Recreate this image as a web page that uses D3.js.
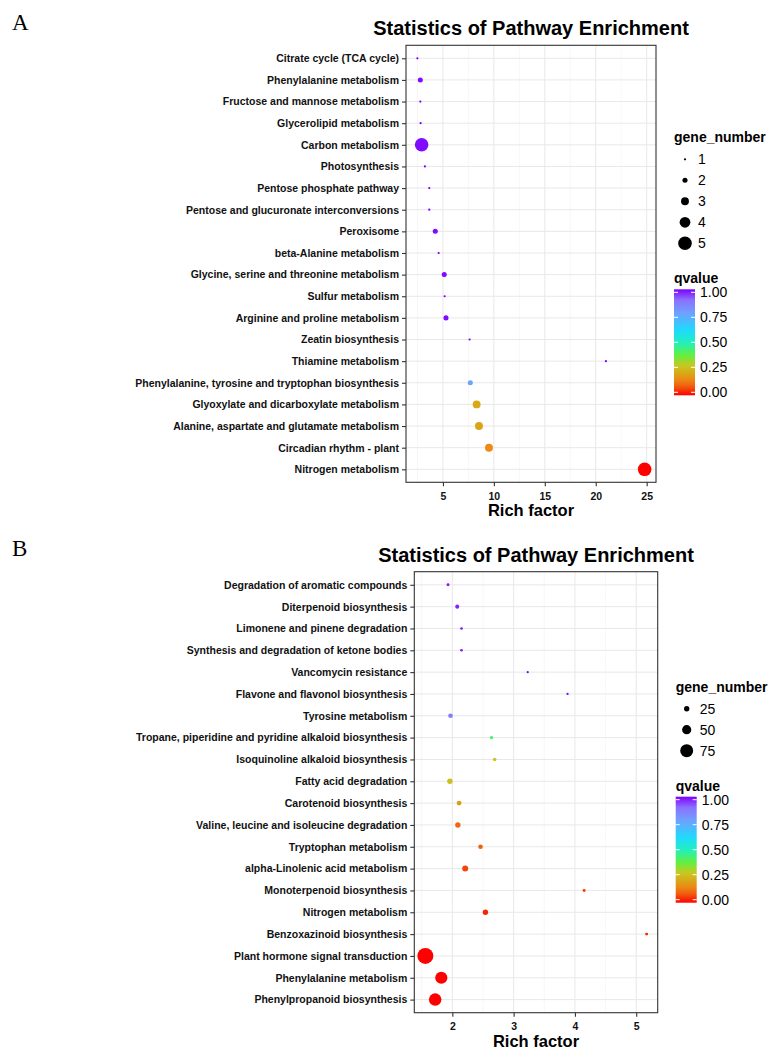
<!DOCTYPE html>
<html>
<head>
<meta charset="utf-8">
<script src="https://cdn.jsdelivr.net/npm/d3@7/dist/d3.min.js"></script>
<style>
  body { margin: 0; background: #fff; }
  text { font-family: "Liberation Sans", Arial, Helvetica, sans-serif; }
</style>
</head>
<body>
<svg id="chart" width="782" height="1061"></svg>
<script>
// ---- panel A data (top to bottom as drawn) ----
const pathwaysA = [
  'Citrate cycle (TCA cycle)', 'Phenylalanine metabolism', 'Fructose and mannose metabolism',
  'Glycerolipid metabolism', 'Carbon metabolism', 'Photosynthesis', 'Pentose phosphate pathway',
  'Pentose and glucuronate interconversions', 'Peroxisome', 'beta-Alanine metabolism',
  'Glycine, serine and threonine metabolism', 'Sulfur metabolism', 'Arginine and proline metabolism',
  'Zeatin biosynthesis', 'Thiamine metabolism', 'Phenylalanine, tyrosine and tryptophan biosynthesis',
  'Glyoxylate and dicarboxylate metabolism', 'Alanine, aspartate and glutamate metabolism',
  'Circadian rhythm - plant', 'Nitrogen metabolism'
]
const richA = [2.49, 2.78, 2.78, 2.81, 2.91, 3.23, 3.66, 3.66, 4.25, 4.58,
  5.13, 5.17, 5.3, 7.62, 21.0, 7.69, 8.31, 8.54, 9.52, 24.8]
const genesA = [1, 2, 1, 1, 5, 1, 1, 1, 2, 1, 2, 1, 2, 1, 1, 2, 3, 3, 3, 5]
const qvalueA = [1, 0.99, 1, 1, 0.99, 1, 1, 1, 0.99, 1,
  0.99, 1, 0.99, 1, 1, 0.77, 0.21, 0.2, 0.15, 0]
const xTicksA = [5, 10, 15, 20, 25]
const sizeBreaksA = [1, 2, 3, 4, 5]

// ---- panel B data ----
const pathwaysB = [
  'Degradation of aromatic compounds', 'Diterpenoid biosynthesis', 'Limonene and pinene degradation',
  'Synthesis and degradation of ketone bodies', 'Vancomycin resistance', 'Flavone and flavonol biosynthesis',
  'Tyrosine metabolism', 'Tropane, piperidine and pyridine alkaloid biosynthesis',
  'Isoquinoline alkaloid biosynthesis', 'Fatty acid degradation', 'Carotenoid biosynthesis',
  'Valine, leucine and isoleucine degradation', 'Tryptophan metabolism', 'alpha-Linolenic acid metabolism',
  'Monoterpenoid biosynthesis', 'Nitrogen metabolism', 'Benzoxazinoid biosynthesis',
  'Plant hormone signal transduction', 'Phenylalanine metabolism', 'Phenylpropanoid biosynthesis'
]
const richB = [1.93, 2.08, 2.15, 2.15, 3.23, 3.88, 1.97, 2.64, 2.69, 1.96,
  2.11, 2.09, 2.46, 2.21, 4.15, 2.54, 5.17, 1.56, 1.82, 1.72]
const genesB = [9, 16, 7, 7, 4, 4, 20, 12, 13, 25, 22, 25, 20, 29, 9, 25, 9, 95, 70, 72]
const qvalueB = [0.98, 0.97, 0.98, 0.98, 1, 1, 0.87, 0.42, 0.28, 0.26,
  0.19, 0.1, 0.09, 0.06, 0.05, 0.03, 0.03, 0, 0, 0]
const xTicksB = [2, 3, 4, 5]
const sizeBreaksB = [25, 50, 75]

// ---- shared colour legend ----
const qBreaks = [0, 0.25, 0.5, 0.75, 1]
const qStops = [0, 0.08, 0.15, 0.21, 0.28, 0.38, 0.5, 0.62, 0.78, 0.9, 1]
const qColours = ['#ff0000', '#f05a10', '#ec8a14', '#d8a818', '#c8c820', '#60f040',
  '#20f0c0', '#20d8ff', '#70a0ff', '#8a70ff', '#7f00ff']

const colour = d3.scaleLinear().domain(qStops).range(qColours).clamp(true)
const svg = d3.select('#chart')

// gradient for colourbar
const grad = svg.append('defs').append('linearGradient')
    .attr('id', 'qgrad')
    .attr('x1', 0).attr('y1', 1).attr('x2', 0).attr('y2', 0)
grad.selectAll('stop').data(d3.range(0, 1.0001, 0.025)).enter().append('stop')
    .attr('offset', d => d)
    .attr('stop-color', d => colour(d))

function panel (opts) {
  const { tag, tagY, box, names, rich, genes, qv, xTicks, sizeBreaks, rRange } = opts
  const g = svg.append('g')

  svg.append('text')
      .attr('x', 12).attr('y', tagY)
      .style('font-family', '"Liberation Serif", "Times New Roman", serif')
      .style('font-size', '23px')
      .text(tag)

  // ggplot-like 5% expansion
  const ext = d3.extent(rich)
  const pad = (ext[1] - ext[0]) * 0.05
  const x = d3.scaleLinear().domain([ext[0] - pad, ext[1] + pad]).range([box.left, box.right])
  const y = d3.scalePoint().domain(names).range([box.top, box.bottom]).padding(0.6)
  const r = d3.scaleLinear().domain(d3.extent(genes)).range(rRange)

  // grid
  const step = xTicks[1] - xTicks[0]
  const minor = xTicks.map(t => t - step / 2).concat([xTicks[xTicks.length - 1] + step / 2])
      .filter(v => v > x.domain()[0] && v < x.domain()[1])
  g.selectAll('.minor').data(minor).enter().append('line')
      .attr('x1', d => x(d)).attr('x2', d => x(d))
      .attr('y1', box.top).attr('y2', box.bottom)
      .attr('stroke', '#f3f3f3').attr('stroke-width', 0.7)
  g.selectAll('.vmajor').data(xTicks).enter().append('line')
      .attr('x1', d => x(d)).attr('x2', d => x(d))
      .attr('y1', box.top).attr('y2', box.bottom)
      .attr('stroke', '#e8e8e8').attr('stroke-width', 1)
  g.selectAll('.hmajor').data(names).enter().append('line')
      .attr('x1', box.left).attr('x2', box.right)
      .attr('y1', d => y(d)).attr('y2', d => y(d))
      .attr('stroke', '#e8e8e8').attr('stroke-width', 1)

  // points
  const rows = names.map((n, i) => ({ name: n, rich: rich[i], genes: genes[i], q: qv[i] }))
  g.selectAll('circle.pt').data(rows).enter().append('circle')
      .attr('class', 'pt')
      .attr('cx', d => x(d.rich))
      .attr('cy', d => y(d.name))
      .attr('r', d => r(d.genes))
      .attr('fill', d => colour(d.q))

  // border
  g.append('rect')
      .attr('x', box.left).attr('y', box.top)
      .attr('width', box.right - box.left).attr('height', box.bottom - box.top)
      .attr('fill', 'none').attr('stroke', '#333').attr('stroke-width', 1.1)

  // axes
  const xAxis = g.append('g')
      .attr('transform', 'translate(0,' + box.bottom + ')')
      .call(d3.axisBottom(x).tickValues(xTicks).tickFormat(d3.format('d'))
        .tickSize(4).tickPadding(6).tickSizeOuter(0))
  const yAxis = g.append('g')
      .attr('transform', 'translate(' + box.left + ',0)')
      .call(d3.axisLeft(y).tickSize(4).tickPadding(3).tickSizeOuter(0))
  xAxis.select('.domain').remove()
  yAxis.select('.domain').remove()
  ;[xAxis, yAxis].forEach(a => {
    a.selectAll('line').attr('stroke', '#333').attr('stroke-width', 1.1)
    a.selectAll('text')
        .attr('fill', '#111')
        .style('font-family', '"Liberation Sans", Arial, sans-serif')
        .style('font-size', '10.5px')
        .style('font-weight', 'bold')
  })

  // titles
  const cx = (box.left + box.right) / 2
  g.append('text')
      .attr('x', cx).attr('y', box.top - 10)
      .attr('text-anchor', 'middle')
      .style('font-size', '20px').style('font-weight', 'bold')
      .text('Statistics of Pathway Enrichment')
  g.append('text')
      .attr('x', cx).attr('y', box.bottom + 34)
      .attr('text-anchor', 'middle')
      .style('font-size', '16.5px').style('font-weight', 'bold')
      .text('Rich factor')

  // legend, centred on the panel
  const lastItem = 17 + (sizeBreaks.length - 1) * 21
  const qTitle = lastItem + 40
  const barTop = qTitle + 6
  const barH = 106
  const height = barTop + barH + 10
  const base = (box.top + box.bottom) / 2 - height / 2 + 10
  const lg = g.append('g').attr('transform', 'translate(' + (box.right + 18) + ',' + base + ')')

  lg.append('text').attr('x', 0).attr('y', 0)
      .style('font-size', '14px').style('font-weight', 'bold')
      .text('gene_number')
  const items = lg.selectAll('.key').data(sizeBreaks).enter().append('g')
      .attr('transform', (d, i) => 'translate(0,' + (17 + i * 21) + ')')
  items.append('circle').attr('cx', 11).attr('cy', 0).attr('r', d => r(d)).attr('fill', '#000')
  items.append('text').attr('x', 24).attr('y', 0).attr('dy', '0.36em')
      .style('font-size', '14px').text(d => d)

  lg.append('text').attr('x', 0).attr('y', qTitle)
      .style('font-size', '14px').style('font-weight', 'bold')
      .text('qvalue')
  const q = d3.scaleLinear().domain([0, 1]).range([barTop + barH - 3, barTop + 3])
  lg.append('rect')
      .attr('x', 0).attr('y', barTop).attr('width', 21).attr('height', barH)
      .attr('fill', 'url(#qgrad)')
  lg.selectAll('.tk').data(qBreaks).enter().append('path')
      .attr('d', d => 'M0,' + q(d) + 'h4M17,' + q(d) + 'h4')
      .attr('stroke', '#fff').attr('stroke-width', 1)
  lg.selectAll('.ql').data(qBreaks).enter().append('text')
      .attr('x', 26).attr('y', d => q(d)).attr('dy', '0.36em')
      .style('font-size', '14px')
      .text(d => d3.format('.2f')(d))
}

panel({
  tag: 'A', tagY: 30,
  box: { left: 406, right: 656, top: 45.3, bottom: 482.3 },
  names: pathwaysA, rich: richA, genes: genesA, qv: qvalueA,
  xTicks: xTicksA, sizeBreaks: sizeBreaksA, rRange: [1.1, 6.8]
})

panel({
  tag: 'B', tagY: 556,
  box: { left: 414.3, right: 657.7, top: 571.7, bottom: 1012.7 },
  names: pathwaysB, rich: richB, genes: genesB, qv: qvalueB,
  xTicks: xTicksB, sizeBreaks: sizeBreaksB, rRange: [1.1, 8]
})
</script>
</body>
</html>
